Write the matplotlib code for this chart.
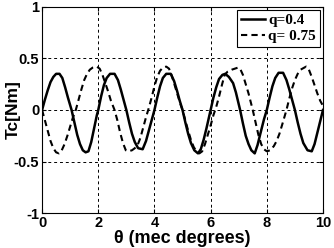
import matplotlib
matplotlib.use("Agg")
import matplotlib.pyplot as plt

# q = 0.4 curve (solid)
theta_a = [0, 0.1, 0.2, 0.3, 0.4, 0.5, 0.62, 0.72, 0.82, 0.92, 1.05, 1.15, 1.25, 1.35, 1.45,
           1.55, 1.65, 1.75, 1.85, 1.95, 2.0, 2.1, 2.2, 2.3, 2.42, 2.58, 2.7, 2.8, 2.9, 3.0,
           3.1, 3.2, 3.3, 3.42, 3.58, 3.7, 3.8, 3.9, 4.0, 4.1, 4.2, 4.3, 4.42, 4.58, 4.7,
           4.8, 4.9, 5.0, 5.1, 5.2, 5.3, 5.42, 5.55, 5.65, 5.75, 5.85, 5.95, 6.0, 6.1, 6.2,
           6.3, 6.42, 6.52, 6.65, 6.8, 6.9, 7.05, 7.15, 7.25, 7.35, 7.45, 7.57, 7.67, 7.77,
           7.9, 8.0, 8.1, 8.2, 8.3, 8.42, 8.58, 8.7, 8.8, 8.9, 9.0, 9.1, 9.2, 9.3, 9.45,
           9.6, 9.7, 9.8, 9.9, 10.0]
tc_a = [0, 0.1, 0.19, 0.27, 0.32, 0.35, 0.35, 0.31, 0.22, 0.12, 0.0, -0.12, -0.24, -0.33, -0.39,
        -0.41, -0.40, -0.31, -0.18, -0.05, 0.0, 0.13, 0.24, 0.31, 0.35, 0.35, 0.29, 0.2, 0.1, 0.0,
        -0.12, -0.23, -0.31, -0.37, -0.38, -0.3, -0.2, -0.1, 0.0, 0.12, 0.23, 0.31, 0.35, 0.35, 0.28,
        0.19, 0.09, 0.0, -0.12, -0.23, -0.32, -0.39, -0.42, -0.38, -0.29, -0.18, -0.06, 0.0, 0.12, 0.22,
        0.3, 0.34, 0.35, 0.32, 0.26, 0.17, 0.0, -0.13, -0.25, -0.33, -0.39, -0.42, -0.34, -0.23,
        -0.09, 0.0, 0.12, 0.23, 0.31, 0.36, 0.36, 0.29, 0.2, 0.1, 0.0, -0.12, -0.23, -0.32, -0.39,
        -0.40, -0.33, -0.22, -0.11, 0.0]

# q = 0.75 curve (dashed)
theta_b = [0, 0.1, 0.2, 0.3, 0.4, 0.5, 0.6, 0.7, 0.8, 0.9, 1.0, 1.1, 1.2, 1.3, 1.4, 1.5, 1.6,
           1.7, 1.8, 1.95, 2.05, 2.15, 2.25, 2.35, 2.45, 2.58, 2.68, 2.78, 2.88, 2.98, 3.08,
           3.2, 3.3, 3.4, 3.5, 3.6, 3.7, 3.8, 3.9, 4.0, 4.1, 4.2, 4.3, 4.42, 4.52, 4.62, 4.72,
           4.82, 4.92, 5.0, 5.1, 5.2, 5.3, 5.4, 5.5, 5.6, 5.7, 5.8, 5.9, 6.0, 6.1, 6.2, 6.3,
           6.4, 6.5, 6.6, 6.75, 6.97, 7.05, 7.15, 7.25, 7.35, 7.5, 7.6, 7.7, 7.8, 7.9, 8.0,
           8.12, 8.25, 8.35, 8.45, 8.55, 8.7, 8.8, 8.9, 9.0, 9.1, 9.2, 9.4, 9.5, 9.6, 9.7,
           9.8, 9.9, 10.0]
tc_b = [0, -0.1, -0.2, -0.3, -0.37, -0.41, -0.42, -0.39, -0.33, -0.25, -0.16, -0.07, 0.0, 0.1, 0.2, 0.29, 0.35,
        0.39, 0.41, 0.42, 0.40, 0.34, 0.26, 0.18, 0.09, 0.0, -0.1, -0.22, -0.32, -0.39, -0.40,
        -0.39, -0.37, -0.34, -0.27, -0.17, -0.07, 0.02, 0.12, 0.23, 0.32, 0.38, 0.41, 0.42, 0.4, 0.33, 0.24,
        0.15, 0.06, 0.0, -0.1, -0.2, -0.29, -0.36, -0.40, -0.42, -0.40, -0.33, -0.24, -0.15, -0.05, 0.03, 0.13,
        0.24, 0.34, 0.37, 0.39, 0.41, 0.40, 0.34, 0.25, 0.16, 0.0, -0.12, -0.24, -0.33, -0.38, -0.40,
        -0.39, -0.35, -0.3, -0.23, -0.14, 0.0, 0.11, 0.21, 0.29, 0.35, 0.39, 0.42, 0.39, 0.32, 0.24,
        0.16, 0.09, 0.04]

x_ticks = [0, 2, 4, 6, 8, 10]
y_ticks = [-1, -0.5, 0, 0.5, 1]
y_tick_labels = ["-1", "-0.5", "0", "0.5", "1"]

plt.rcParams['font.family'] = ['Liberation Sans', 'DejaVu Sans']

fig = plt.figure(figsize=(3.34, 2.48), dpi=100)
ax = fig.add_axes([0.126, 0.14, 0.841, 0.833])

ax.plot(theta_a, tc_a, color='black', linewidth=1.8, label='q=0.4')
ax.plot(theta_b, tc_b, color='black', linewidth=1.5, linestyle=(0, (3, 2)), label='q= 0.75')

ax.set_xlim(0, 10)
ax.set_ylim(-1, 1)
ax.set_xticks(x_ticks)
ax.set_yticks(y_ticks)
ax.set_yticklabels(y_tick_labels)
ax.tick_params(direction='in', length=3, width=0.8, labelsize=10.5, pad=2)
ax.tick_params(top=True, right=True)
for lab in ax.get_xticklabels() + ax.get_yticklabels():
    lab.set_fontweight('bold')

ax.grid(True, color='black', linestyle=(0, (3, 3)), linewidth=0.7)
for s in ax.spines.values():
    s.set_linewidth(0.8)

ax.set_xlabel('θ (mec degrees)', fontsize=13, fontweight='bold', labelpad=0)
ax.set_ylabel('Tc[Nm]', fontsize=12.5, fontweight='bold')
ax.yaxis.set_label_coords(-0.075, 0.5)

leg = ax.legend(loc='upper right', fancybox=False, edgecolor='black', framealpha=1,
                borderaxespad=0.2, handlelength=1.6, handletextpad=0.2, borderpad=0.25,
                labelspacing=0.15, prop={'family': 'Liberation Serif', 'weight': 'bold', 'size': 11})
leg.get_frame().set_linewidth(0.8)

fig.savefig('out.png', dpi=100)
